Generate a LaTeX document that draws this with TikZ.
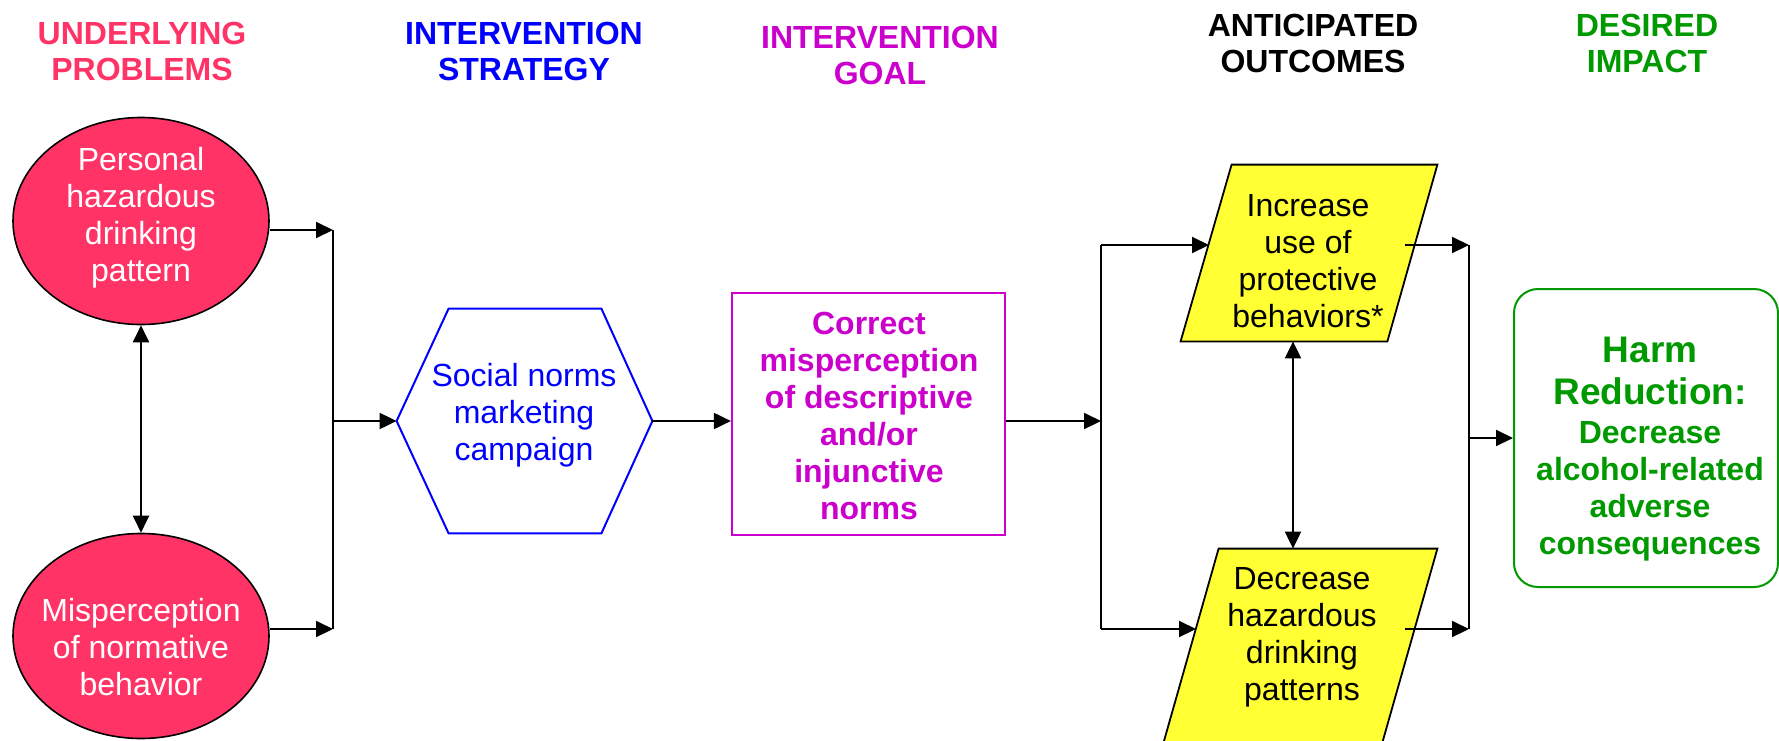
\documentclass[tikz,border=0pt]{standalone}
\usepackage{fontspec}
\setmainfont{Liberation Sans}
\usetikzlibrary{shapes.geometric,arrows.meta,calc}
\definecolor{pinkred}{RGB}{255,51,102}
\definecolor{yel}{RGB}{255,255,51}
\definecolor{blu}{RGB}{0,0,255}
\definecolor{mag}{RGB}{204,0,204}
\definecolor{grn}{RGB}{0,153,0}
\begin{document}
\begin{tikzpicture}[x=0.5pt,y=-0.5pt,
  lin/.style={draw=black,line width=1pt},
  arr/.style={lin,-{Triangle[length=8.5pt,width=8pt]}},
  biarr/.style={lin,{Triangle[length=8.5pt,width=8pt]}-{Triangle[length=8.5pt,width=8pt]}},
  hdr/.style={font=\fontsize{16}{18}\selectfont\bfseries, align=center, inner sep=0pt},
  body/.style={font=\fontsize{16}{18.5}\selectfont, align=center, inner sep=0pt},
  bodyb/.style={body, font=\fontsize{16}{18.5}\selectfont\bfseries},
  ellip/.style={ellipse, draw=black, line width=0.8pt, fill=pinkred, inner sep=0pt, minimum width=128pt},
  frame/.style={rectangle, inner sep=0pt},
  hexline/.style={draw=blu, line width=1pt, fill=white},
  parline/.style={draw=black, line width=0.9pt, fill=yel},
  goalbox/.style={rectangle, draw=mag, line width=1.1pt, inner sep=0pt, minimum width=136.5pt, minimum height=121pt},
  harmbox/.style={rectangle, rounded corners=12pt, draw=grn, line width=1pt, inner sep=0pt, minimum width=132pt, minimum height=149pt}
]
\clip (0,0) rectangle (1779,740);
\fill[white] (0,0) rectangle (1779,740);

% headers
\node[hdr, text=pinkred] (h1) at (142,51) {UNDERLYING\\PROBLEMS};
\node[hdr, text=blu] (h2) at (524,51) {INTERVENTION\\STRATEGY};
\node[hdr, text=mag] (h3) at (880,55.5) {INTERVENTION\\GOAL};
\node[hdr, text=black] (h4) at (1313,43.5) {ANTICIPATED\\OUTCOMES};
\node[hdr, text=grn] (h5) at (1647,43.5) {DESIRED\\IMPACT};

% ellipses
\node[ellip, minimum height=103.5pt] (e1) at (141,221) {};
\node[ellip, minimum height=102.5pt] (e2) at (141,636) {};
\node[body, text=white] (e1t) at (141,217.5) {Personal\\hazardous\\drinking\\pattern};
\node[body, text=white] (e2t) at (141,647) {Misperception\\of normative\\behavior};

% hexagon
\node[frame, minimum width=127.5pt, minimum height=112pt] (hx) at (524.5,421) {};
\path[hexline] (hx.west) -- ([xshift=26pt]hx.north west) -- ([xshift=-25.5pt]hx.north east)
  -- (hx.east) -- ([xshift=-25.5pt]hx.south east) -- ([xshift=26pt]hx.south west) -- cycle;
\node[body, text=blu] (hxt) at (524,415) {Social norms\\marketing\\campaign};

% goal box
\node[goalbox] (bx) at (868.5,414) {};
\node[bodyb, text=mag] (bxt) at (869,415.5) {Correct\\misperception\\of descriptive\\and/or\\injunctive\\norms};

% parallelograms
\node[frame, minimum width=128pt, minimum height=88pt] (p1) at (1309,253) {};
\path[parline] ([xshift=25.5pt]p1.north west) -- (p1.north east) -- ([xshift=-25pt]p1.south east) -- (p1.south west) -- cycle;
\node[body] (p1t) at (1308,261) {Increase\\use of\\protective\\behaviors*};

\node[frame, minimum width=137.5pt, minimum height=100pt] (p2) at (1299.5,649) {};
\path[parline] ([xshift=28.5pt]p2.north west) -- (p2.north east) -- ([xshift=-28.5pt]p2.south east) -- (p2.south west) -- cycle;
\node[body] (p2t) at (1302,637) {Decrease\\hazardous\\drinking\\patterns};

% harm box
\node[harmbox] (hb) at (1646,438) {};
\node[font=\fontsize{18.5}{21}\selectfont\bfseries, align=center, inner sep=0pt, text=grn] (hbt1) at (1650,371) {Harm\\Reduction:};
\node[bodyb, text=grn] (hbt2) at (1650,491) {Decrease\\alcohol-related\\adverse\\consequences};

% left connectors
\coordinate (j1) at (333,230);
\coordinate (j2) at (333,629);
\coordinate (j3) at (333,421);
\draw[arr] (e1.east |- j1) -- (j1);
\draw[arr] (e2.east |- j2) -- (j2);
\draw[lin] (j1) -- (j2);
\draw[arr] (j3) -- (hx.west);
\draw[biarr] (e1.south) -- (e2.north);

% middle
\draw[arr] (hx.east) -- (bx.west |- hx.east);

% right connectors
\coordinate (k1) at (1101,245);
\coordinate (k2) at (1101,629);
\coordinate (k3) at (1101,421);
\coordinate (p1in) at (1209,245);
\coordinate (p2in) at (1196,629);
\draw[arr] (bx.east |- k3) -- (k3);
\draw[lin] (k1) -- (k2);
\draw[arr] (k1) -- (p1in);
\draw[arr] (k2) -- (p2in);

\coordinate (p1out) at (1405,245);
\coordinate (p2out) at (1405,629);
\coordinate (m1) at (1469,245);
\coordinate (m2) at (1469,629);
\coordinate (m3) at (1469,438);
\draw[arr] (p1out) -- (m1);
\draw[arr] (p2out) -- (m2);
\draw[lin] (m1) -- (m2);
\draw[arr] (m3) -- (hb.west);

\coordinate (bi) at (1293,0);
\draw[biarr] (p1.south -| bi) -- (p2.north -| bi);
\end{tikzpicture}
\end{document}
